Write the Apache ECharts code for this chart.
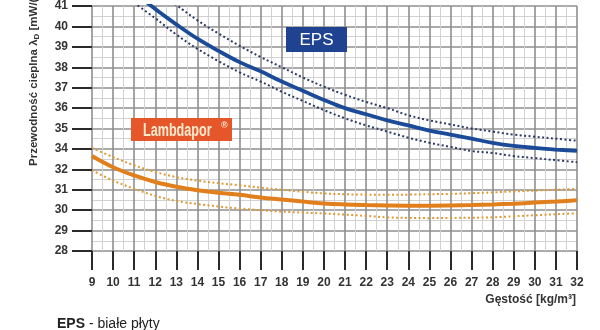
<!DOCTYPE html>
<html>
<head>
<meta charset="utf-8">
<script src="https://cdn.jsdelivr.net/npm/echarts@6/dist/echarts.min.js"></script>
<style>
  html, body { margin: 0; padding: 0; background: #fff; }
  #chart { width: 600px; height: 330px; }
</style>
</head>
<body>
<div id="chart"></div>
<script>
// y positions on a linear grid; the printed tick labels skip 33 (as in the original)
const yTickLabels = ['28', '29', '30', '31', '32', '34', '35', '36', '37', '38', '39', '40', '41'];

const epsDensity = [11, 12, 13, 14, 15, 16, 17, 18, 19, 20, 21, 22, 23, 24, 25, 26, 27, 28, 29, 30, 31, 32];
const epsMain  = [40.7, 39.85, 39.1, 38.4, 37.8, 37.25, 36.8, 36.3, 35.85, 35.4, 35.0, 34.7, 34.4, 34.15, 33.9, 33.7, 33.5, 33.3, 33.15, 33.05, 32.97, 32.9];
const epsUpper = [41.5, 40.8, 40.05, 39.3, 38.65, 38.05, 37.5, 37.0, 36.5, 36.05, 35.65, 35.3, 35.0, 34.65, 34.4, 34.2, 34.0, 33.85, 33.7, 33.6, 33.5, 33.4];
const epsLower = [40.15, 39.4, 38.6, 37.9, 37.3, 36.75, 36.3, 35.8, 35.35, 34.9, 34.5, 34.15, 33.85, 33.55, 33.3, 33.1, 32.9, 32.8, 32.65, 32.55, 32.45, 32.35];

const lambdaDensity = [9, 10, 11, 12, 13, 14, 15, 16, 17, 18, 19, 20, 21, 22, 23, 24, 25, 26, 27, 28, 29, 30, 31, 32];
const lambdaMain  = [32.65, 32.1, 31.7, 31.38, 31.15, 30.98, 30.85, 30.75, 30.62, 30.52, 30.42, 30.33, 30.28, 30.25, 30.23, 30.22, 30.22, 30.23, 30.25, 30.28, 30.32, 30.37, 30.42, 30.48];
const lambdaUpper = [33.05, 32.6, 32.2, 31.87, 31.62, 31.45, 31.32, 31.22, 31.1, 31.0, 30.9, 30.82, 30.78, 30.76, 30.75, 30.76, 30.78, 30.8, 30.83, 30.87, 30.92, 30.96, 31.0, 31.04];
const lambdaLower = [31.95, 31.45, 31.05, 30.7, 30.45, 30.3, 30.18, 30.08, 30.0, 29.93, 29.88, 29.84, 29.78, 29.72, 29.65, 29.62, 29.61, 29.62, 29.63, 29.65, 29.7, 29.75, 29.8, 29.85];

const pairs = (xs, ys) => xs.map((x, i) => [x, ys[i]]);
const font = "'Liberation Sans', Arial, sans-serif";

function curve(name, xs, ys, color, width, dotted) {
  return {
    name: name,
    type: 'line',
    data: pairs(xs, ys),
    smooth: 0.4,
    showSymbol: false,
    silent: true,
    lineStyle: dotted
      ? { color: color, width: 2, type: [2, 2.5], cap: 'butt' }
      : { color: color, width: width }
  };
}

const chart = echarts.init(document.getElementById('chart'));
chart.setOption({
  animation: false,
  grid: { left: 92, right: 23, top: -2, bottom: 79, containLabel: false },
  xAxis: {
    type: 'value',
    min: 9,
    max: 32,
    interval: 1,
    axisLine: { show: false },
    axisTick: { show: true, length: 19, lineStyle: { color: '#2a2a2a', width: 2 } },
    axisLabel: { margin: 26, color: '#333', fontFamily: font, fontWeight: 'bold', fontSize: 12 },
    splitLine: { show: true, lineStyle: { color: '#8f8f8f', width: 1.6 } },
    minorTick: { show: false, splitNumber: 2 },
    minorSplitLine: { show: true, lineStyle: { color: '#d2d2d2', width: 1 } }
  },
  yAxis: {
    type: 'value',
    min: 28,
    max: 40,
    interval: 1,
    axisLine: { show: false },
    axisTick: { show: true, length: 20, lineStyle: { color: '#2a2a2a', width: 2 } },
    axisLabel: {
      margin: 24, color: '#333', fontFamily: font, fontWeight: 'bold', fontSize: 12,
      formatter: (v) => yTickLabels[Math.round(v - 28)]
    },
    splitLine: { show: true, lineStyle: { color: '#8f8f8f', width: 1.6 } },
    minorTick: { show: false, splitNumber: 2 },
    minorSplitLine: { show: true, lineStyle: { color: '#d2d2d2', width: 1 } }
  },
  series: [
    curve('EPS max', epsDensity, epsUpper, '#2b3a66', 2, true),
    curve('EPS min', epsDensity, epsLower, '#2b3a66', 2, true),
    curve('EPS', epsDensity, epsMain, '#1b4b98', 3.8, false),
    curve('Lambdapor max', lambdaDensity, lambdaUpper, '#dd9a35', 2, true),
    curve('Lambdapor min', lambdaDensity, lambdaLower, '#dd9a35', 2, true),
    curve('Lambdapor', lambdaDensity, lambdaMain, '#e07f1c', 4, false)
  ],
  graphic: [
    {
      type: 'text', x: 34, y: 166, rotation: Math.PI / 2, z: 100,
      style: {
        text: 'Przewodność cieplna λ{s|D} [mW/(m·K)]',
        fill: '#333', font: "bold 11.5px 'Liberation Sans', Arial, sans-serif",
        align: 'left', verticalAlign: 'middle',
        rich: { s: { fontSize: 8, fontWeight: 'bold', fontFamily: font, fill: '#333', padding: [6, 0, 0, 0] } }
      }
    },
    {
      type: 'text', x: 576, y: 300, z: 100,
      style: {
        text: 'Gęstość [kg/m³]', fill: '#333',
        font: "bold 12px 'Liberation Sans', Arial, sans-serif",
        align: 'right', verticalAlign: 'middle'
      }
    },
    {
      type: 'rect', z: 100, shape: { x: 286, y: 27, width: 61, height: 25 },
      style: { fill: '#1f4390' }
    },
    {
      type: 'text', x: 316.5, y: 40, z: 101,
      style: {
        text: 'EPS', fill: '#ffffff',
        font: "17px 'Liberation Sans', Arial, sans-serif",
        align: 'center', verticalAlign: 'middle'
      }
    },
    {
      type: 'rect', z: 100, shape: { x: 131, y: 118, width: 101, height: 23 },
      style: { fill: '#e6562b' }
    },
    {
      type: 'text', x: 143, y: 131, scaleX: 0.7, z: 101,
      style: {
        text: 'Lambdapor', fill: '#fbebcf',
        font: "bold 18px 'Liberation Sans', Arial, sans-serif",
        align: 'left', verticalAlign: 'middle'
      }
    },
    {
      type: 'text', x: 221, y: 126, z: 101,
      style: {
        text: '®', fill: '#fbebcf',
        font: "bold 9px 'Liberation Sans', Arial, sans-serif",
        align: 'left', verticalAlign: 'middle'
      }
    },
    {
      type: 'text', x: 57, y: 324, z: 100,
      style: {
        text: '{b|EPS} - białe płyty', fill: '#222',
        font: "14px 'Liberation Sans', Arial, sans-serif",
        align: 'left', verticalAlign: 'middle',
        rich: { b: { fontWeight: 'bold', fontSize: 14, fontFamily: font, fill: '#222' } }
      }
    }
  ]
});
</script>
</body>
</html>
